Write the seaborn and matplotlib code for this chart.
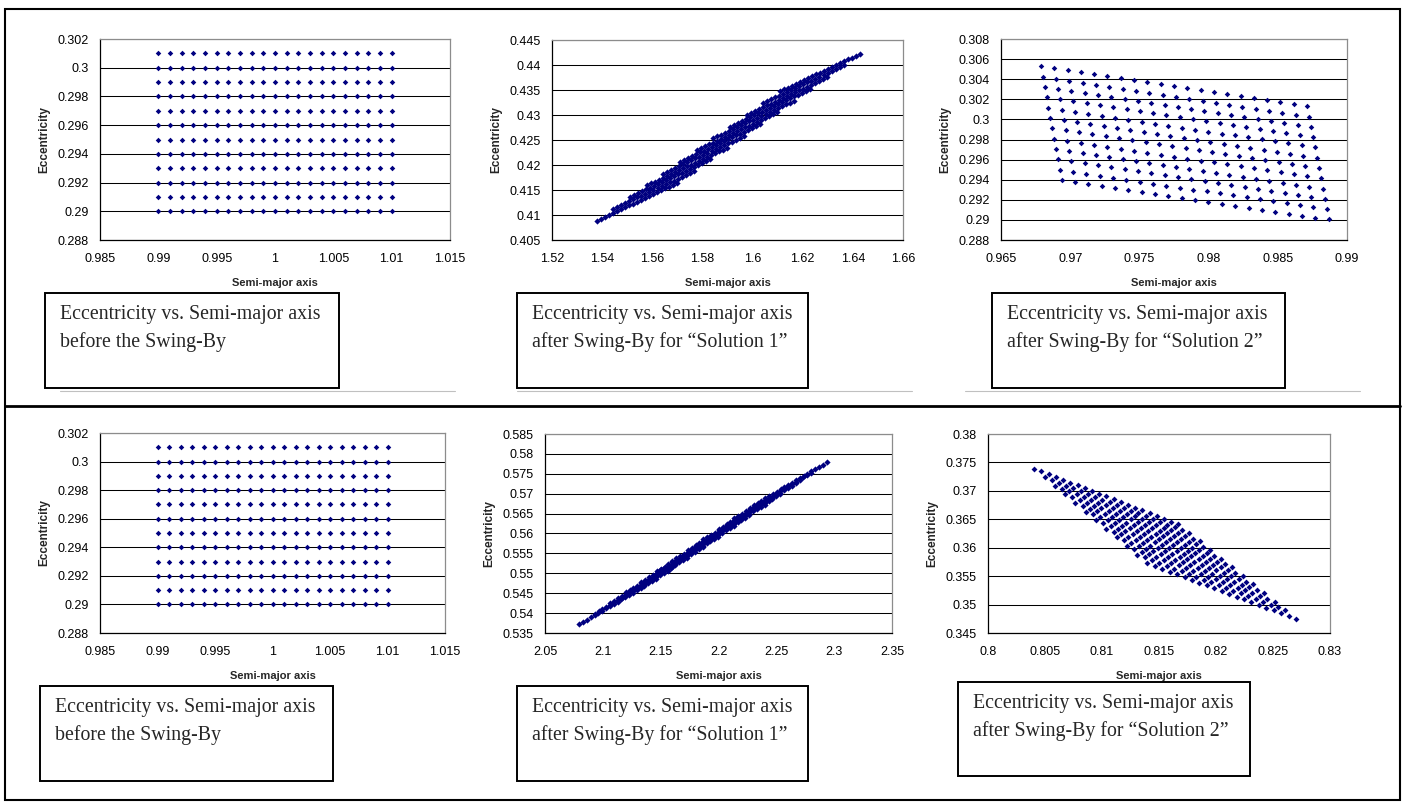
# %%
import numpy as np
import pandas as pd
import matplotlib
matplotlib.use('Agg')
import matplotlib.pyplot as plt
from matplotlib.ticker import FuncFormatter
from matplotlib.patches import Rectangle
from matplotlib.lines import Line2D
import seaborn as sns

# %% grade de condicoes iniciais (antes do swing-by), igual nos dois casos
a_antes = [0.990, 0.991, 0.992, 0.993, 0.994, 0.995, 0.996, 0.997, 0.998, 0.999, 1.000,
           1.001, 1.002, 1.003, 1.004, 1.005, 1.006, 1.007, 1.008, 1.009, 1.010]
e_antes = [0.290, 0.291, 0.292, 0.293, 0.294, 0.295, 0.296, 0.297, 0.298, 0.299, 0.300, 0.301]

# cantos da malha depois do swing-by, lidos da figura
# ordem: (a min, e min), (a max, e min), (a min, e max), (a max, e max) da grade inicial
sol1_cima_a = [1.5378, 1.56988, 1.61088, 1.64296]
sol1_cima_e = [0.4089, 0.41643, 0.43473, 0.44225]
sol2_cima_a = [0.96789, 0.98711, 0.96938, 0.98867]
sol2_cima_e = [0.30529, 0.30131, 0.29395, 0.29004]
sol1_baixo_a = [2.0796, 2.14592, 2.22720, 2.2935]
sol1_baixo_e = [0.5372, 0.54858, 0.56652, 0.5779]
sol2_baixo_a = [0.80406, 0.81670, 0.81398, 0.82702]
sol2_baixo_e = [0.37390, 0.36412, 0.35726, 0.34752]

# ticks dos eixos
xt_antes = [0.985, 0.99, 0.995, 1.0, 1.005, 1.01, 1.015]
yt_antes = [0.288, 0.29, 0.292, 0.294, 0.296, 0.298, 0.3, 0.302]
xt_sol1_cima = [1.52, 1.54, 1.56, 1.58, 1.6, 1.62, 1.64, 1.66]
yt_sol1_cima = [0.405, 0.41, 0.415, 0.42, 0.425, 0.43, 0.435, 0.44, 0.445]
xt_sol2_cima = [0.965, 0.97, 0.975, 0.98, 0.985, 0.99]
yt_sol2_cima = [0.288, 0.29, 0.292, 0.294, 0.296, 0.298, 0.3, 0.302, 0.304, 0.306, 0.308]
xt_sol1_baixo = [2.05, 2.1, 2.15, 2.2, 2.25, 2.3, 2.35]
yt_sol1_baixo = [0.535, 0.54, 0.545, 0.55, 0.555, 0.56, 0.565, 0.57, 0.575, 0.58, 0.585]
xt_sol2_baixo = [0.8, 0.805, 0.81, 0.815, 0.82, 0.825, 0.83]
yt_sol2_baixo = [0.345, 0.35, 0.355, 0.36, 0.365, 0.37, 0.375, 0.38]

legendas = ['Eccentricity vs. Semi-major axis\nbefore the Swing-By',
            'Eccentricity vs. Semi-major axis\nafter Swing-By for \u201cSolution 1\u201d',
            'Eccentricity vs. Semi-major axis\nafter Swing-By for \u201cSolution 2\u201d']


# %% funcoes auxiliares
def grade_antes():
    A, E = np.meshgrid(a_antes, e_antes)
    return pd.DataFrame({'a': A.ravel(), 'e': E.ravel()})


def grade_depois(cantos_a, cantos_e):
    # cada ponto da grade inicial vai para a sua posicao dentro da malha lida
    A, E = np.meshgrid(a_antes, e_antes)
    u = (A - min(a_antes)) / (max(a_antes) - min(a_antes))
    v = (E - min(e_antes)) / (max(e_antes) - min(e_antes))
    pesos = [(1 - u) * (1 - v), u * (1 - v), (1 - u) * v, u * v]
    a = sum(p * c for p, c in zip(pesos, cantos_a))
    e = sum(p * c for p, c in zip(pesos, cantos_e))
    return pd.DataFrame({'a': a.ravel(), 'e': e.ravel()})


W, H = 1403, 805


def fx(px):
    return px / W


def fy(py):
    return 1 - py / H


fmt = FuncFormatter(lambda v, p: ('%.4f' % v).rstrip('0').rstrip('.'))
AZUL = '#000080'

fig = plt.figure(figsize=(W / 100, H / 100), dpi=100)
sns.set_style('white')
plt.rcParams['font.family'] = ['Liberation Sans', 'DejaVu Sans']


def painel(caixa, dados, xt, yt, tam=8):
    x0, y0, x1, y1 = caixa
    ax = fig.add_axes([fx(x0), fy(y1), (x1 - x0) / W, (y1 - y0) / H])
    sns.scatterplot(data=dados, x='a', y='e', ax=ax, marker='D', s=tam,
                    color=AZUL, linewidth=0, legend=False, zorder=3)
    ax.set_xlim(xt[0], xt[-1])
    ax.set_ylim(yt[0], yt[-1])
    ax.set_xticks(xt)
    ax.set_yticks(yt)
    ax.xaxis.set_major_formatter(fmt)
    ax.yaxis.set_major_formatter(fmt)
    ax.yaxis.grid(True, color='black', linewidth=0.75)
    ax.xaxis.grid(False)
    ax.set_axisbelow(True)
    for lado in ['left', 'bottom']:
        ax.spines[lado].set_color('black')
        ax.spines[lado].set_linewidth(0.9)
    for lado in ['top', 'right']:
        ax.spines[lado].set_color('#8c8c8c')
        ax.spines[lado].set_linewidth(0.9)
    ax.tick_params(axis='both', direction='out', length=3.5, width=0.8,
                   color='black', labelsize=9, labelcolor='black')
    ax.tick_params(axis='x', pad=6)
    ax.tick_params(axis='y', pad=4.5)
    ax.set_xlabel('Semi-major axis', fontsize=8, fontweight='bold')
    ax.set_ylabel('Eccentricity', fontsize=8.5, fontweight='bold')
    ax.xaxis.set_label_coords(0.5, -38 / (y1 - y0))
    ax.yaxis.set_label_coords(-50 / (x1 - x0), 0.5)
    return ax


def legenda(caixa, texto):
    x0, y0, x1, y1 = caixa
    fig.add_artist(Rectangle((fx(x0), fy(y1)), (x1 - x0) / W, (y1 - y0) / H,
                             transform=fig.transFigure, fill=False,
                             edgecolor='black', linewidth=1.4))
    fig.text(fx(x0 + 15), fy(y0 + 12), texto, ha='left', va='top',
             fontsize=14.3, family=['Liberation Serif', 'DejaVu Serif'],
             linespacing=1.55)


# %% linha de cima
painel((100, 39, 450, 240), grade_antes(), xt_antes, yt_antes)
painel((552, 40, 903, 240), grade_depois(sol1_cima_a, sol1_cima_e), xt_sol1_cima, yt_sol1_cima, tam=10)
painel((1001, 39, 1347, 240), grade_depois(sol2_cima_a, sol2_cima_e), xt_sol2_cima, yt_sol2_cima)

legenda((45, 293, 339, 388), legendas[0])
legenda((517, 293, 808, 388), legendas[1])
legenda((992, 293, 1285, 388), legendas[2])

# %% linha de baixo
painel((100, 433, 445, 633), grade_antes(), xt_antes, yt_antes)
painel((545, 434, 892, 633), grade_depois(sol1_baixo_a, sol1_baixo_e), xt_sol1_baixo, yt_sol1_baixo, tam=10)
painel((988, 434, 1330, 633), grade_depois(sol2_baixo_a, sol2_baixo_e), xt_sol2_baixo, yt_sol2_baixo, tam=9)

legenda((40, 686, 333, 781), legendas[0])
legenda((517, 686, 808, 781), legendas[1])
legenda((958, 682, 1250, 776), legendas[2])

# %% moldura externa e divisoria
fig.add_artist(Rectangle((fx(5), fy(800)), 1395 / W, 791 / H, transform=fig.transFigure,
                         fill=False, edgecolor='black', linewidth=1.5))
fig.add_artist(Line2D([fx(5), fx(1400)], [fy(406), fy(406)], transform=fig.transFigure,
                      color='black', linewidth=2))
for xa, xb in [(60, 455), (517, 912), (965, 1360)]:
    fig.add_artist(Line2D([fx(xa), fx(xb)], [fy(391), fy(391)], transform=fig.transFigure,
                          color='#c0c0c0', linewidth=0.8))

fig.savefig('out.png', dpi=100)
